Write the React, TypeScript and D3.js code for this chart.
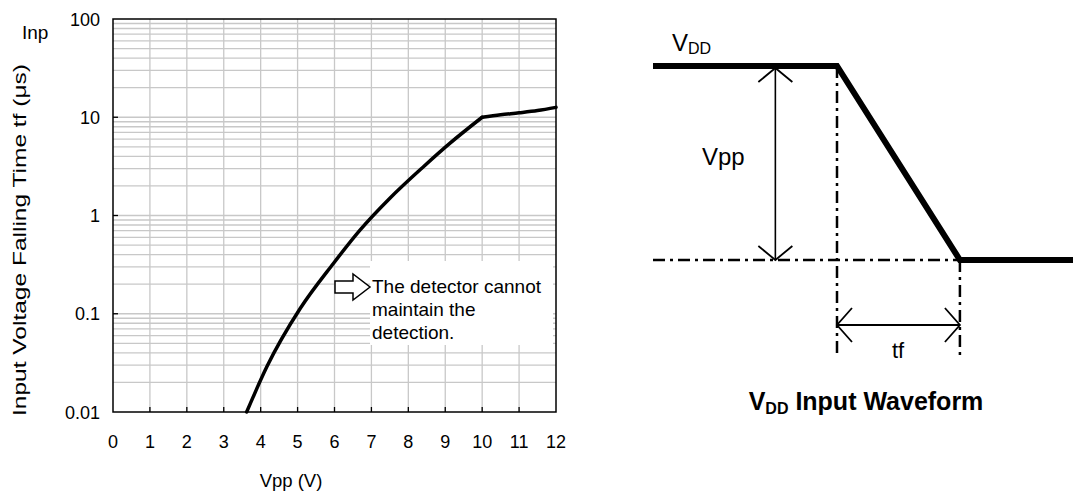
import * as d3 from "d3";

// tf vs Vpp curve
const vppValues = [3.62, 4.17, 5.07, 5.97, 6.69, 7.5, 8.41, 9.13, 10.0, 10.5, 11.0, 11.5, 12.0];
const tfValues = [0.01, 0.029, 0.113, 0.325, 0.71, 1.5, 3.14, 5.45, 10, 10.6, 11.1, 11.7, 12.6];
const kneeVpp = 10;
const xTicks = [0, 1, 2, 3, 4, 5, 6, 7, 8, 9, 10, 11, 12];
const yDecades = [0.01, 0.1, 1, 10, 100];
const yTickLabels = ["0.01", "0.1", "1", "10", "100"];
const noteLines = ["The detector cannot", "maintain the", "detection."];

// waveform sketch: time (arbitrary units) vs level (0 = low, 1 = VDD)
const waveT = [0, 1, 1.668, 2.283];
const waveV = [1, 1, 0, 0];

const W = 1073;
const H = 493;
const font = "Arial, 'Liberation Sans', sans-serif";

const x = d3.scaleLinear().domain([0, 12]).range([113, 556]);
const y = d3.scaleLog().domain([0.01, 100]).range([412, 19]);

const tx = d3.scaleLinear().domain([0, 1]).range([653, 837]);
const ty = d3.scaleLinear().domain([0, 1]).range([260, 66]);

function Chart() {
  const minor: number[] = [];
  yDecades.slice(0, -1).forEach((d) => {
    for (let k = 2; k <= 9; k++) minor.push(d * k);
  });
  const pts = vppValues.map((v, i) => [v, tfValues[i]] as [number, number]);
  const before = pts.filter((p) => p[0] <= kneeVpp);
  const after = pts.filter((p) => p[0] >= kneeVpp);
  const line = d3
    .line<[number, number]>()
    .x((d) => x(d[0]))
    .y((d) => y(d[1]))
    .curve(d3.curveMonotoneX);
  const [x0, x1] = x.range();
  const [yb, yt] = y.range();

  // hollow block arrow next to the note
  const ax = 335;
  const ay = 287;
  const arrow = `M${ax},${ay - 6} L${ax + 18},${ay - 6} L${ax + 18},${ay - 13} L${ax + 35},${ay} L${ax + 18},${ay + 13} L${ax + 18},${ay + 6} L${ax},${ay + 6} Z`;

  return (
    <g fontFamily={font}>
      {/* grid */}
      {minor.concat(yDecades.slice(1, -1)).map((v) => (
        <line key={"h" + v} x1={x0} x2={x1} y1={y(v)} y2={y(v)} stroke="#c8c8c8" strokeWidth={1.3} />
      ))}
      {xTicks.slice(1, -1).map((v) => (
        <line key={"v" + v} x1={x(v)} x2={x(v)} y1={yt} y2={yb} stroke="#c8c8c8" strokeWidth={1.3} />
      ))}
      {/* note box */}
      <rect x={370} y={261} width={183} height={84} fill="#fff" />
      {/* curve */}
      <g fill="none" stroke="#000" strokeWidth={3.5} strokeLinecap="round" strokeLinejoin="round">
        <path d={line(before) || undefined} />
        <path d={line(after) || undefined} />
      </g>
      {/* frame */}
      <rect x={x0} y={yt} width={x1 - x0} height={yb - yt} fill="none" stroke="#000" strokeWidth={1.5} />
      {xTicks.slice(1, -1).map((v) => (
        <line key={"xt" + v} x1={x(v)} x2={x(v)} y1={yb} y2={yb - 5} stroke="#000" strokeWidth={1.3} />
      ))}
      {yDecades.slice(1, -1).map((v) => (
        <line key={"yt" + v} x1={x0} x2={x0 + 5} y1={y(v)} y2={y(v)} stroke="#000" strokeWidth={1.3} />
      ))}
      {/* tick labels */}
      {xTicks.map((v) => (
        <text key={"xl" + v} x={x(v)} y={448} textAnchor="middle" fontSize={18}>
          {v}
        </text>
      ))}
      {yDecades.map((v, i) => (
        <text key={"yl" + v} x={100} y={y(v) + 6.5} textAnchor="end" fontSize={18}>
          {yTickLabels[i]}
        </text>
      ))}
      <text x={22} y={39} fontSize={19}>
        Inp
      </text>
      <text x={291} y={487} textAnchor="middle" fontSize={18.5}>
        Vpp (V)
      </text>
      <text
        transform="translate(26,240) rotate(-90)"
        textAnchor="middle"
        fontSize={18}
        textLength={352}
        lengthAdjust="spacingAndGlyphs"
      >
        Input Voltage Falling Time tf (μs)
      </text>
      {/* annotation */}
      <path d={arrow} fill="#fff" stroke="#000" strokeWidth={1.5} strokeLinejoin="miter" />
      {noteLines.map((s, i) => (
        <text key={s} x={372} y={293 + i * 23} fontSize={19}>
          {s}
        </text>
      ))}
    </g>
  );
}

function Waveform() {
  const pts = waveT.map((t, i) => [t, waveV[i]] as [number, number]);
  const line = d3
    .line<[number, number]>()
    .x((d) => tx(d[0]))
    .y((d) => ty(d[1]));
  const tFall0 = tx(waveT[1]);
  const tFall1 = tx(waveT[2]);
  const lowY = ty(0);
  const highY = ty(1);
  const vppX = tx(0.665);
  const tfY = 325;
  const dash = "12 5 3 5";
  return (
    <g fontFamily={font}>
      <line x1={tx(0)} x2={tFall1} y1={lowY} y2={lowY} stroke="#000" strokeWidth={2.5} strokeDasharray={dash} />
      <line x1={tFall0} x2={tFall0} y1={highY} y2={358} stroke="#000" strokeWidth={2.5} strokeDasharray={dash} />
      <line x1={tFall1} x2={tFall1} y1={lowY} y2={358} stroke="#000" strokeWidth={2.5} strokeDasharray={dash} />
      <path d={line(pts) || undefined} fill="none" stroke="#000" strokeWidth={6} />
      {/* Vpp arrow */}
      <line x1={vppX} x2={vppX} y1={highY + 1} y2={lowY} stroke="#000" strokeWidth={1.6} />
      <polyline points={`${vppX - 17},${highY + 16} ${vppX},${highY + 2} ${vppX + 17},${highY + 16}`} fill="none" stroke="#000" strokeWidth={1.8} />
      <polyline points={`${vppX - 17},${lowY - 14} ${vppX},${lowY} ${vppX + 17},${lowY - 14}`} fill="none" stroke="#000" strokeWidth={1.8} />
      {/* tf arrow */}
      <line x1={tFall0} x2={tFall1} y1={tfY} y2={tfY} stroke="#000" strokeWidth={1.8} />
      <polyline points={`${tFall0 + 15},${tfY - 17} ${tFall0},${tfY} ${tFall0 + 15},${tfY + 17}`} fill="none" stroke="#000" strokeWidth={1.8} />
      <polyline points={`${tFall1 - 15},${tfY - 17} ${tFall1},${tfY} ${tFall1 - 15},${tfY + 17}`} fill="none" stroke="#000" strokeWidth={1.8} />
      {/* labels */}
      <text x={672} y={51} fontSize={24}>
        V<tspan fontSize={16} dy={3}>DD</tspan>
      </text>
      <text x={702} y={165} fontSize={24}>
        Vpp
      </text>
      <text x={898} y={358} textAnchor="middle" fontSize={22}>
        tf
      </text>
      <text x={866} y={410} textAnchor="middle" fontSize={25} fontWeight="bold">
        V<tspan fontSize={16} dy={4}>DD</tspan>
        <tspan dy={-4}> Input Waveform</tspan>
      </text>
    </g>
  );
}

export default function App() {
  return (
    <svg
      width={W}
      height={H}
      viewBox={`0 0 ${W} ${H}`}
      style={{ position: "absolute", left: 0, top: 0, background: "#fff" }}
    >
      <rect width={W} height={H} fill="#fff" />
      <Chart />
      <Waveform />
    </svg>
  );
}
